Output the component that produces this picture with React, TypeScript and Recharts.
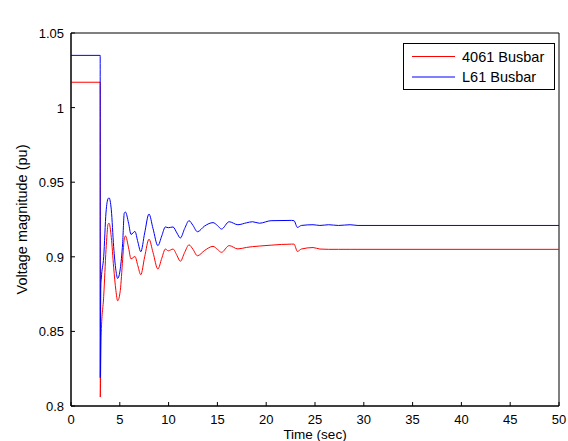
import React from 'react';
import { LineChart, Line, XAxis, YAxis, ReferenceArea } from 'recharts';

const time = [0, 2.99, 3.0, 3.05, 3.1, 3.35, 3.59, 3.69, 3.8, 3.9, 4.13, 4.37, 4.6, 4.78, 5.05, 5.29, 5.46, 5.58, 5.9, 6.15, 6.55, 6.85, 7.15, 7.55, 7.99, 8.4, 8.9, 9.3, 9.67, 9.97, 10.45, 10.85, 11.2, 11.65, 12.09, 12.5, 12.95, 13.7, 14.55, 15.0, 15.42, 16.2, 17.1, 18.0, 18.6, 19.3, 20.5, 22.6, 22.85, 23.2, 23.6, 24.8, 25.5, 26.4, 27.4, 28.6, 29.4, 50];
const bus4061 = [1.017, 1.017, 0.806, 0.83, 0.849, 0.8735, 0.905, 0.915, 0.922, 0.9225, 0.913, 0.893, 0.8774, 0.8705, 0.8774, 0.898, 0.912, 0.914, 0.906, 0.8986, 0.9002, 0.894, 0.888, 0.9, 0.9118, 0.903, 0.8918, 0.899, 0.9052, 0.904, 0.9052, 0.901, 0.897, 0.903, 0.908, 0.905, 0.9007, 0.9043, 0.907, 0.905, 0.903, 0.9075, 0.9053, 0.9063, 0.9068, 0.9072, 0.9078, 0.9085, 0.9085, 0.9036, 0.9052, 0.9062, 0.9052, 0.905, 0.905, 0.905, 0.905, 0.905];
const busL61 = [1.035, 1.035, 0.819, 0.879, 0.885, 0.9, 0.93, 0.9362, 0.939, 0.9395, 0.9315, 0.9068, 0.891, 0.8855, 0.892, 0.909, 0.9293, 0.93, 0.9225, 0.915, 0.917, 0.91, 0.9034, 0.916, 0.9287, 0.919, 0.9075, 0.914, 0.92, 0.9195, 0.92, 0.916, 0.9126, 0.919, 0.9242, 0.921, 0.9168, 0.9207, 0.9229, 0.921, 0.9186, 0.9235, 0.9215, 0.9228, 0.9235, 0.9225, 0.9242, 0.9244, 0.9242, 0.9197, 0.921, 0.9215, 0.921, 0.9215, 0.921, 0.9215, 0.921, 0.921];
const xTicks = [0, 5, 10, 15, 20, 25, 30, 35, 40, 45, 50];
const yTicks = [0.8, 0.85, 0.9, 0.95, 1, 1.05];
const seriesNames = ['4061 Busbar', 'L61 Busbar'];
const seriesColors = ['#ff0000', '#0000ff'];

const data = time.map((t, i) => ({ t, a: bus4061[i], b: busL61[i] }));

const FONT = '"Liberation Sans", Arial, Helvetica, sans-serif';

const BottomTick = (props: any) => {
  const { x, y, payload } = props;
  return (
    <g>
      <line x1={x} x2={x} y1={y} y2={y - 4} stroke="#000" strokeWidth={1} />
      <text x={x} y={y + 17.5} textAnchor="middle" fontSize={13} fontFamily={FONT} fill="#000">
        {String(payload.value)}
      </text>
    </g>
  );
};

const TopTick = (props: any) => {
  const { x, y } = props;
  return <line x1={x} x2={x} y1={y} y2={y + 4} stroke="#000" strokeWidth={1} />;
};

const LeftTick = (props: any) => {
  const { x, y, payload } = props;
  return (
    <g>
      <line x1={x} x2={x + 4} y1={y} y2={y} stroke="#000" strokeWidth={1} />
      <text x={x - 7} y={y + 5} textAnchor="end" fontSize={13} fontFamily={FONT} fill="#000">
        {String(payload.value)}
      </text>
    </g>
  );
};

const RightTick = (props: any) => {
  const { x, y } = props;
  return <line x1={x} x2={x - 4} y1={y} y2={y} stroke="#000" strokeWidth={1} />;
};

export default function App() {
  return (
    <div style={{ position: 'absolute', left: 0, top: 0, width: 568, height: 441, background: '#fff' }}>
      <LineChart width={568} height={441} data={data} margin={{ top: 33, right: 9, bottom: 0, left: 0 }}>
        <XAxis
          xAxisId="b"
          dataKey="t"
          type="number"
          domain={[0, 50]}
          allowDataOverflow
          ticks={xTicks}
          height={35}
          tickSize={0}
          tickMargin={0}
          tick={<BottomTick />}
          stroke="#000"
          axisLine={{ stroke: '#000', strokeWidth: 1 }}
          interval={0}
          label={{ value: 'Time (sec)', position: 'insideBottom', offset: 2.2, style: { fontSize: 13.5, fontFamily: FONT, fill: '#000' } }}
        />
        <XAxis
          xAxisId="top"
          orientation="top"
          dataKey="t"
          type="number"
          domain={[0, 50]}
          allowDataOverflow
          ticks={xTicks}
          height={0}
          tickSize={0}
          tickMargin={0}
          tick={<TopTick />}
          stroke="#000"
          axisLine={{ stroke: '#000', strokeWidth: 1 }}
          interval={0}
          label={{ value: 'Dynamic Security Assessment', position: 'top', offset: 10, style: { fontSize: 14.5, fontFamily: FONT, fill: '#000' } }}
        />
        <YAxis
          yAxisId="l"
          type="number"
          domain={[0.8, 1.05]}
          allowDataOverflow
          ticks={yTicks}
          width={71}
          tickSize={0}
          tickMargin={0}
          tick={<LeftTick />}
          stroke="#000"
          axisLine={{ stroke: '#000', strokeWidth: 1 }}
          interval={0}
          label={{ value: 'Voltage magnitude (pu)', angle: -90, position: 'insideLeft', offset: 22, style: { fontSize: 14.5, fontFamily: FONT, fill: '#000', textAnchor: 'middle' } }}
        />
        <YAxis
          yAxisId="r"
          orientation="right"
          type="number"
          domain={[0.8, 1.05]}
          allowDataOverflow
          ticks={yTicks}
          width={0}
          tickSize={0}
          tickMargin={0}
          tick={<RightTick />}
          stroke="#000"
          axisLine={{ stroke: '#000', strokeWidth: 1 }}
          interval={0}
        />
        <ReferenceArea xAxisId="b" yAxisId="l" x1={0} x2={50} y1={0.8} y2={1.05} fill="none" stroke="#000" strokeWidth={1} ifOverflow="visible" />
        <Line xAxisId="b" yAxisId="l" type="monotone" dataKey="a" name={seriesNames[0]} stroke={seriesColors[0]} strokeWidth={1} dot={false} isAnimationActive={false} />
        <Line xAxisId="b" yAxisId="l" type="monotone" dataKey="b" name={seriesNames[1]} stroke={seriesColors[1]} strokeWidth={1} dot={false} isAnimationActive={false} />
      </LineChart>
      <svg width={568} height={441} style={{ position: 'absolute', left: 0, top: 0, pointerEvents: 'none' }}>
        <rect x={403.5} y={43.5} width={151} height={46} fill="#fff" stroke="#000" strokeWidth={1} />
        {seriesNames.map((n, i) => (
          <g key={n}>
            <line x1={412} x2={455} y1={56.5 + i * 20.5} y2={56.5 + i * 20.5} stroke={seriesColors[i]} strokeWidth={1} />
            <text x={462} y={61.5 + i * 20.5} fontSize={14.5} fontFamily={FONT} fill="#000">{n}</text>
          </g>
        ))}
      </svg>
    </div>
  );
}
